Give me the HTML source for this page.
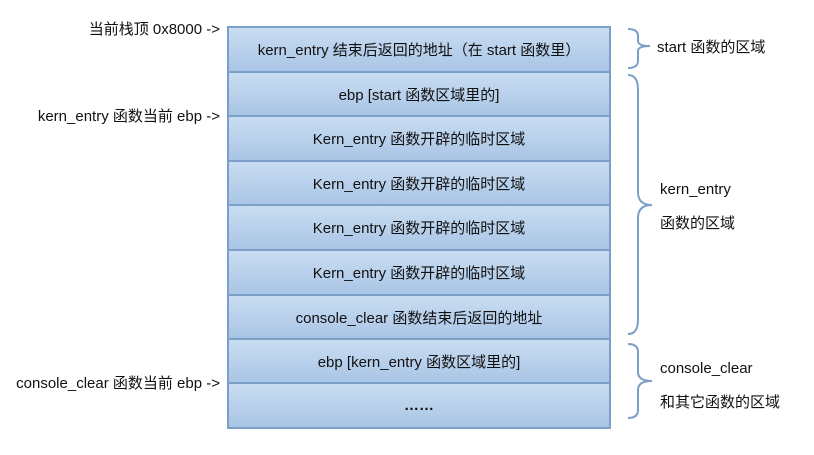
<!DOCTYPE html>
<html><head><meta charset="utf-8"><style>
body{margin:0;width:814px;height:455px;background:#fff;position:relative;overflow:hidden;font-family:"Liberation Sans","Noto Sans CJK SC",sans-serif;font-size:15px;color:#111}
.r{position:absolute;left:227px;width:384px;border:2px solid #7b9fc7;background:linear-gradient(#c9ddf2,#a9c5e5);display:flex;align-items:center;justify-content:center;box-sizing:border-box}
.t{position:absolute;white-space:nowrap}
</style></head><body>
<div class="r" style="top:26px;height:47px">kern_entry 结束后返回的地址（在 start 函数里）</div>
<div class="r" style="top:71px;height:46px">ebp [start 函数区域里的]</div>
<div class="r" style="top:115px;height:47px">Kern_entry 函数开辟的临时区域</div>
<div class="r" style="top:160px;height:46px">Kern_entry 函数开辟的临时区域</div>
<div class="r" style="top:204px;height:47px">Kern_entry 函数开辟的临时区域</div>
<div class="r" style="top:249px;height:47px">Kern_entry 函数开辟的临时区域</div>
<div class="r" style="top:294px;height:46px">console_clear 函数结束后返回的地址</div>
<div class="r" style="top:338px;height:46px">ebp [kern_entry 函数区域里的]</div>
<div class="r" style="top:382px;height:47px;font-weight:bold">……</div>
<div class="t" style="right:594px;top:18px">当前栈顶 0x8000 -&gt;</div>
<div class="t" style="right:594px;top:105px">kern_entry 函数当前 ebp -&gt;</div>
<div class="t" style="right:594px;top:372px">console_clear 函数当前 ebp -&gt;</div>
<div class="t" style="left:657px;top:36px">start 函数的区域</div>
<div class="t" style="left:660px;top:181px">kern_entry</div>
<div class="t" style="left:660px;top:212px">函数的区域</div>
<div class="t" style="left:660px;top:360px">console_clear</div>
<div class="t" style="left:660px;top:391px">和其它函数的区域</div>
<svg width="814" height="455" style="position:absolute;left:0;top:0" fill="none" stroke="#7b9fc7" stroke-width="2">
<path d="M628 29 Q638 29 638 36 L638 41 Q638 46 650 46 Q638 46 638 51 L638 61 Q638 68 628 68"/>
<path d="M628 75 Q638 75 638 90 L638 192 Q638 205 652 205 Q638 205 638 218 L638 320 Q638 334 628 334"/>
<path d="M628 344 Q638 344 638 352 L638 372 Q638 381 652 381 Q638 381 638 390 L638 410 Q638 418 628 418"/>
</svg>
</body></html>
